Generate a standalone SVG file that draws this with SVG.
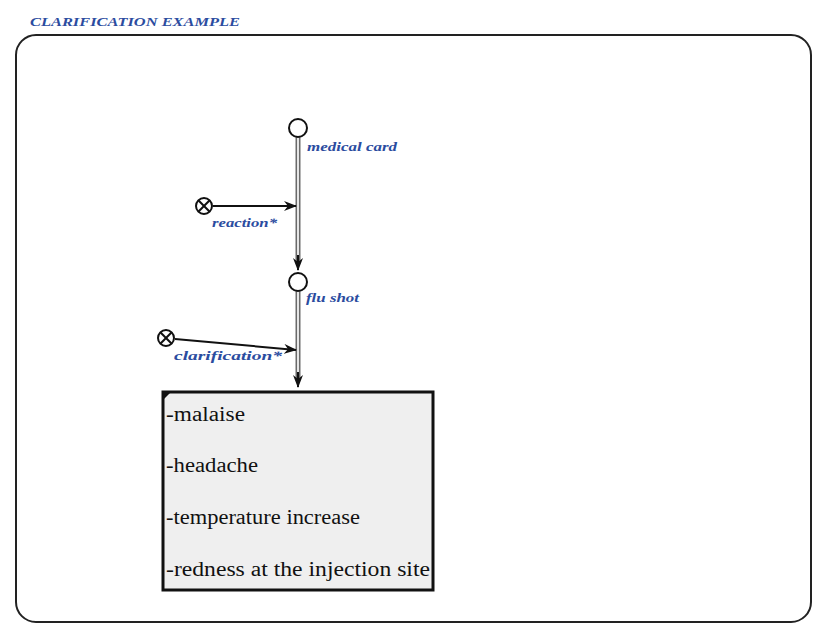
<svg xmlns="http://www.w3.org/2000/svg" width="829" height="632" viewBox="0 0 829 632">
<defs>
<marker id="ah" viewBox="0 0 13 10" refX="12" refY="5" markerWidth="13" markerHeight="10" markerUnits="userSpaceOnUse" orient="auto">
<path d="M0,0 L13,5 L0,10 L4,5 Z" fill="#111"/>
</marker>
</defs>
<style>
.lbl{font-family:"Liberation Serif","Times New Roman","DejaVu Serif",serif;font-weight:bold;font-style:italic;fill:#2b4ca0;font-size:13px}
.item{font-family:"Liberation Serif","Times New Roman","DejaVu Serif",serif;font-size:20px;fill:#111}
.state{fill:#fff;stroke:#111;stroke-width:2}
.xo{fill:#fff;stroke:#111;stroke-width:2}
.rail{stroke:#6a6a6a;stroke-width:5;fill:none}
.railc{stroke:#e6e6e6;stroke-width:2;fill:none}
.link{stroke:#111;stroke-width:2;fill:none}
</style>
<rect width="829" height="632" fill="#fff"/>
<text x="30" y="26" class="lbl" textLength="210" lengthAdjust="spacingAndGlyphs">CLARIFICATION EXAMPLE</text>
<rect id="frame" x="16" y="35" width="795" height="587" rx="20" ry="20" fill="none" stroke="#222" stroke-width="2"/>
<g id="connectors">
<line x1="298" y1="137" x2="298" y2="262" class="rail"/>
<line x1="298" y1="137" x2="298" y2="262" class="railc"/>
<line x1="298" y1="255" x2="298" y2="270" class="link" marker-end="url(#ah)"/>
<line x1="298" y1="291" x2="298" y2="378" class="rail"/>
<line x1="298" y1="291" x2="298" y2="378" class="railc"/>
<line x1="298" y1="372" x2="298" y2="387" class="link" marker-end="url(#ah)"/>
<line x1="213" y1="206" x2="296" y2="206" class="link" marker-end="url(#ah)"/>
<line x1="175" y1="339" x2="296" y2="350" class="link" marker-end="url(#ah)"/>
</g>
<g id="medical-card">
<circle cx="298" cy="128" r="9" class="state"/>
<text x="307" y="151" class="lbl" textLength="90" lengthAdjust="spacingAndGlyphs">medical card</text>
</g>
<g id="flu-shot">
<circle cx="298" cy="282" r="9" class="state"/>
<text x="306" y="302" class="lbl" textLength="53" lengthAdjust="spacingAndGlyphs">flu shot</text>
</g>
<g id="reaction">
<circle cx="204" cy="206" r="8" class="xo"/>
<line x1="198.3" y1="200.3" x2="209.7" y2="211.7" stroke="#111" stroke-width="2"/>
<line x1="209.7" y1="200.3" x2="198.3" y2="211.7" stroke="#111" stroke-width="2"/>
<text x="212" y="227" class="lbl" textLength="65" lengthAdjust="spacingAndGlyphs">reaction*</text>
</g>
<g id="clarification">
<circle cx="166" cy="338" r="8" class="xo"/>
<line x1="160.3" y1="332.3" x2="171.7" y2="343.7" stroke="#111" stroke-width="2"/>
<line x1="171.7" y1="332.3" x2="160.3" y2="343.7" stroke="#111" stroke-width="2"/>
<text x="174" y="360" class="lbl" textLength="108" lengthAdjust="spacingAndGlyphs">clarification*</text>
</g>
<g id="symptoms">
<rect x="163" y="392" width="270" height="198" fill="#efefef" stroke="#111" stroke-width="3"/>
<path d="M163,392 L171,392 L163,400 Z" fill="#111"/>
<text x="166" y="421" class="item" textLength="79" lengthAdjust="spacingAndGlyphs">-malaise</text>
<text x="166" y="472" class="item" textLength="92" lengthAdjust="spacingAndGlyphs">-headache</text>
<text x="166" y="524" class="item" textLength="194" lengthAdjust="spacingAndGlyphs">-temperature increase</text>
<text x="166" y="576" class="item" textLength="264" lengthAdjust="spacingAndGlyphs">-redness at the injection site</text>
</g>
</svg>
